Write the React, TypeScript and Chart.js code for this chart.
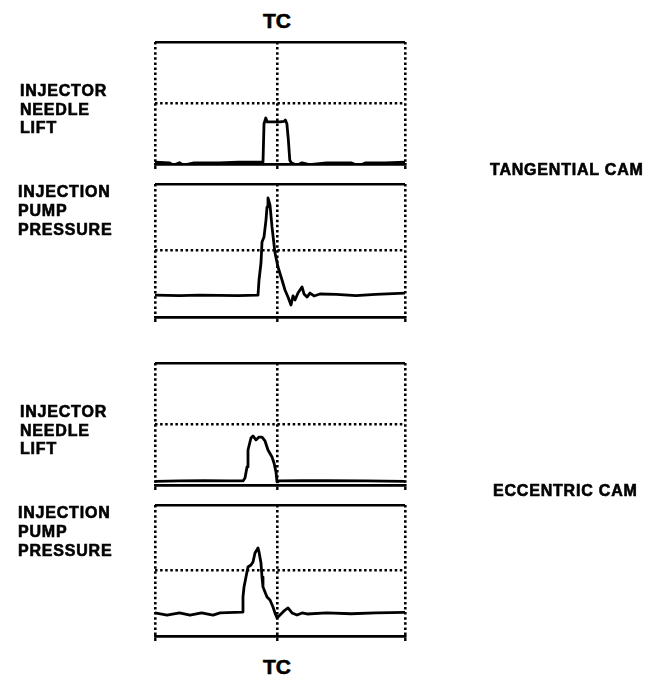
import React, { useEffect, useRef } from "react";
import { Chart, registerables } from "chart.js";

Chart.register(...registerables);

// ---------- data (crank position in arbitrary units, TC = 0; trace height in scope units 0..10) ----------
const X_MIN = -25;
const X_MAX = 26;
const X_GRID = [-25, 0, 26];
const Y_MIN = 0;
const Y_MAX = 10;
const Y_GRID = [0, 5, 10];

// Tangential cam – injector needle lift
const tanLiftX = [-25, -22, -21.3, -20, -19.2, -17, -12, -8, -2.97, -2.76, -2.4, -2.1, -1.0, 0.5, 1.3, 1.6, 1.9, 2.2, 2.5, 2.8, 4.0, 5.0, 6.5, 10, 15, 16.5, 18, 22, 26];
const tanLiftY = [0.15, 0.1, -0.1, 0.1, -0.1, 0.1, 0.1, 0.15, 0.15, 3.3, 3.77, 3.45, 3.45, 3.45, 3.5, 3.6, 3.3, 2.0, 0.3, 0.1, -0.1, 0.1, -0.05, 0.1, 0.1, -0.15, 0.1, 0.1, 0.15];

// Tangential cam – injection pump pressure
const tanPressX = [-25, -20, -16, -8, -4.2, -3.99, -3.78, -3.38, -3.17, -2.76, -2.36, -2.15, -1.95, -1.54, -1.13, -0.52, 0.09, 0.91, 1.52, 2.13, 2.74, 3.15, 3.56, 4.17, 4.99, 5.4, 6.01, 6.62, 7.44, 8.66, 12, 16, 20, 26];
const tanPressY = [1.65, 1.6, 1.65, 1.6, 1.65, 1.65, 2.78, 4.06, 5.64, 6.02, 7.29, 8.27, 8.95, 8.42, 6.77, 4.81, 3.76, 2.78, 2.03, 1.5, 0.9, 1.58, 1.28, 1.8, 2.26, 1.73, 1.5, 1.8, 1.58, 1.73, 1.7, 1.6, 1.7, 1.8];

// Eccentric cam – injector needle lift
const eccLiftX = [-25, -20, -15, -10, -7.05, -6.64, -6.23, -6.03, -5.42, -5.01, -4.4, -3.78, -3.17, -2.56, -1.95, -1.13, -0.72, -0.32, -0.11, 0.09, 5, 10, 18, 26];
const eccLiftY = [0.3, 0.33, 0.35, 0.33, 0.33, 0.57, 1.48, 2.87, 3.85, 4.02, 3.69, 3.93, 3.93, 3.61, 2.87, 2.3, 1.8, 1.07, 0.25, 0.33, 0.35, 0.35, 0.33, 0.3];

// Eccentric cam – injection pump pressure
const eccPressX = [-25, -22.55, -20, -17.86, -15.5, -13.17, -11.74, -7.25, -7.05, -6.84, -6.44, -6.03, -5.42, -5.01, -4.6, -3.99, -3.78, -3.38, -3.17, -2.97, -2.15, -1.54, -0.93, -0.52, -0.11, 0.5, 1.52, 2.13, 2.95, 3.97, 4.99, 6.01, 10, 15, 20, 26];
const eccPressY = [1.76, 1.6, 1.76, 1.6, 1.76, 1.6, 1.76, 1.83, 2.98, 3.74, 4.5, 5.27, 5.42, 5.65, 6.34, 6.72, 6.41, 5.57, 4.5, 3.74, 2.98, 2.75, 2.21, 1.76, 1.37, 1.6, 1.98, 2.14, 1.76, 1.6, 1.76, 1.68, 1.76, 1.7, 1.76, 1.8];

const LIFT_LABEL = ["INJECTOR", "NEEDLE", "LIFT"];
const PRESS_LABEL = ["INJECTION", "PUMP", "PRESSURE"];
const CAM_LABELS = ["TANGENTIAL CAM", "ECCENTRIC CAM"];
const TC_LABEL = "TC";

// ---------- layout ----------
const PAGE_W = 660;
const PLOT_LEFT = 155;
const PLOT_RIGHT = 405;
const PAD_T = 4;
const PAD_B = 4;
const TICK_LEN = 5;
const FONT = '"Liberation Sans", Arial, Helvetica, sans-serif';
const DOT = [2.5, 2.6];

type PanelProps = { top: number; bottom: number; xs: number[]; ys: number[] };

function Panel({ top, bottom, xs, ys }: PanelProps) {
  const ref = useRef<HTMLCanvasElement>(null);
  useEffect(() => {
    const data = xs.map((x, i) => ({ x, y: ys[i] }));
    const chart = new Chart(ref.current as HTMLCanvasElement, {
      type: "line",
      data: {
        datasets: [
          {
            data,
            borderColor: "#000",
            borderWidth: 2.8,
            pointRadius: 0,
            fill: false,
            tension: 0,
            borderJoinStyle: "round",
            borderCapStyle: "round",
          },
        ],
      },
      options: {
        animation: false,
        responsive: true,
        maintainAspectRatio: false,
        events: [],
        layout: { padding: { left: PLOT_LEFT, right: PAGE_W - PLOT_RIGHT, top: PAD_T, bottom: PAD_B } },
        plugins: { legend: { display: false }, tooltip: { enabled: false }, title: { display: false } },
        scales: {
          x: {
            type: "linear",
            min: X_MIN,
            max: X_MAX,
            afterBuildTicks: (s: any) => {
              s.ticks = X_GRID.map((v) => ({ value: v }));
            },
            ticks: { display: false },
            grid: {
              color: "#000",
              lineWidth: 2.6,
              drawTicks: true,
              tickLength: TICK_LEN,
              tickWidth: 2.4,
              tickColor: "#000",
              tickBorderDash: [],
            },
            border: { display: true, color: "#000", width: 2.5, dash: DOT },
          },
          y: {
            type: "linear",
            min: Y_MIN,
            max: Y_MAX,
            afterBuildTicks: (s: any) => {
              s.ticks = Y_GRID.map((v) => ({ value: v }));
            },
            ticks: { display: false },
            grid: {
              color: "#000",
              lineWidth: (c: any) => (c.tick && c.tick.value === 5 ? 2.6 : 2.5),
              drawTicks: false,
            },
            border: {
              display: false,
              dash: (c: any) => (c.tick && c.tick.value === 5 ? DOT : []),
            },
          },
        },
      },
    } as any);
    return () => chart.destroy();
  }, [xs, ys]);
  const h = bottom - top + PAD_T + TICK_LEN + PAD_B;
  return (
    <div style={{ position: "absolute", left: 0, top: top - PAD_T, width: PAGE_W, height: h }}>
      <canvas ref={ref} />
    </div>
  );
}

function Label({ lines, left, top, lh }: { lines: string[]; left: number; top: number; lh: number }) {
  return (
    <div
      style={{
        position: "absolute",
        left,
        top,
        fontFamily: FONT,
        fontWeight: 700,
        fontSize: 16,
        lineHeight: `${lh}px`,
        letterSpacing: "0.8px",
        color: "#000",
        whiteSpace: "pre",
        WebkitTextStroke: "0.6px #000",
      }}
    >
      {lines.join("\n")}
    </div>
  );
}

function TC({ top }: { top: number }) {
  return (
    <div
      style={{
        position: "absolute",
        left: 177,
        width: 200,
        top,
        textAlign: "center",
        fontFamily: FONT,
        fontWeight: 700,
        fontSize: 21,
        lineHeight: "21px",
        color: "#000",
        WebkitTextStroke: "0.6px #000",
      }}
    >
      {TC_LABEL}
    </div>
  );
}

export default function App() {
  return (
    <div style={{ position: "absolute", left: 0, top: 0, width: PAGE_W, height: 676, background: "#fff", overflow: "hidden" }}>
      <TC top={9.5} />
      <Panel top={42} bottom={164} xs={tanLiftX} ys={tanLiftY} />
      <Panel top={184} bottom={317} xs={tanPressX} ys={tanPressY} />
      <Panel top={363} bottom={485} xs={eccLiftX} ys={eccLiftY} />
      <Panel top={505} bottom={636} xs={eccPressX} ys={eccPressY} />
      <TC top={655.5} />
      <Label lines={LIFT_LABEL} left={20} top={82} lh={18.5} />
      <Label lines={PRESS_LABEL} left={18} top={181.6} lh={19} />
      <Label lines={LIFT_LABEL} left={20} top={403} lh={18.5} />
      <Label lines={PRESS_LABEL} left={18} top={503} lh={19} />
      <Label lines={[CAM_LABELS[0]]} left={490} top={162} lh={16} />
      <Label lines={[CAM_LABELS[1]]} left={493} top={483} lh={16} />
    </div>
  );
}
